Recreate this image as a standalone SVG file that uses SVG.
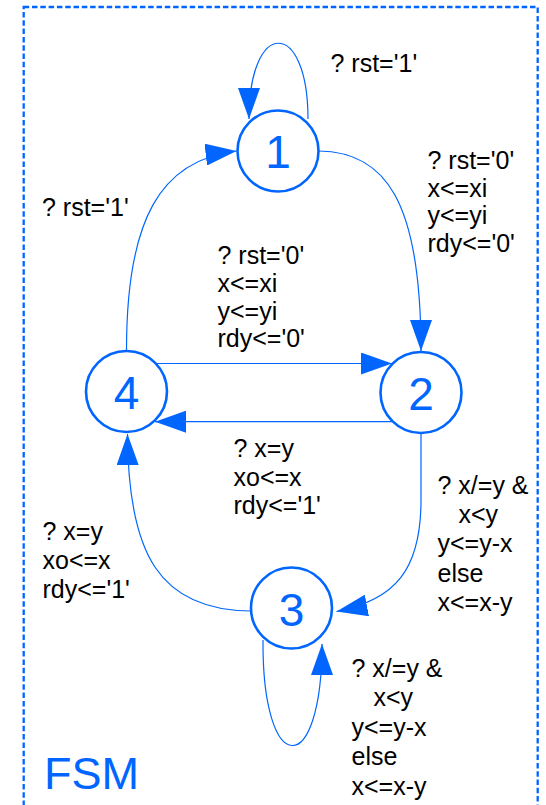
<svg xmlns="http://www.w3.org/2000/svg" width="546" height="805" viewBox="0 0 546 805">
<defs>
<style>
.frame{fill:none;stroke:#0066ff;stroke-width:2.3;stroke-dasharray:5.5 2.8}
.state circle{fill:#fff;stroke:#0066ff;stroke-width:2.6}
.state text{font-family:"Liberation Sans",Arial,sans-serif;font-size:46px;fill:#0066ff;text-anchor:middle}
.edge{fill:none;stroke:#0066ff;stroke-width:1.2;marker-end:url(#ah)}
.lbl{font-family:"Liberation Sans",Arial,sans-serif;font-size:25px;fill:#000}
.title{font-family:"Liberation Sans",Arial,sans-serif;font-size:45px;fill:#0066ff}
</style>
<marker id="ah" markerUnits="userSpaceOnUse" markerWidth="32" markerHeight="22" refX="31" refY="11" orient="auto">
<path d="M0,0 L31,11 L0,22 z" fill="#0066ff"/>
</marker>
</defs>
<rect class="frame" x="23.7" y="7" width="514" height="840"/>
<g id="connectors">
<path class="edge" d="M308,119 C308,18 249,18 249,119"/>
<path class="edge" d="M126.5,350 C126.5,220 160,160 236.5,151"/>
<path class="edge" d="M319,151 C385,152 421,200 421,351"/>
<path class="edge" d="M156,363.5 L392,363.5"/>
<path class="edge" d="M392,421.7 L155,421.7"/>
<path class="edge" d="M421,433.5 L421,500 C421,570 395,600 336.5,611.5"/>
<path class="edge" d="M250.5,611 C160,610 128,555 127.5,434"/>
<path class="edge" d="M263,640 C262,780 322,780 322,644"/>
</g>
<g id="node1" class="state"><circle cx="278" cy="151" r="40.5"/><text x="278" y="167.5">1</text></g>
<g id="node2" class="state"><circle cx="421" cy="392.5" r="40.5"/><text x="421" y="410">2</text></g>
<g id="node3" class="state"><circle cx="291.5" cy="608" r="40.5"/><text x="291.5" y="625.5">3</text></g>
<g id="node4" class="state"><circle cx="126.5" cy="391.5" r="40.5"/><text x="126.5" y="408.5">4</text></g>
<g id="labels" class="lbl">
<text x="330.5" y="72">? rst='1'</text>
<text x="42" y="215.5">? rst='1'</text>
<text x="427.5" y="169">? rst='0'</text>
<text x="427.5" y="196.7">x&lt;=xi</text>
<text x="427.5" y="224.3">y&lt;=yi</text>
<text x="427.5" y="252">rdy&lt;='0'</text>
<text x="217.5" y="264">? rst='0'</text>
<text x="217.5" y="292">x&lt;=xi</text>
<text x="217.5" y="319.5">y&lt;=yi</text>
<text x="217.5" y="347">rdy&lt;='0'</text>
<text x="233.5" y="457">? x=y</text>
<text x="233.5" y="485.5">xo&lt;=x</text>
<text x="233.5" y="514">rdy&lt;='1'</text>
<text x="42.5" y="539.5">? x=y</text>
<text x="42.5" y="568.5">xo&lt;=x</text>
<text x="42.5" y="597.5">rdy&lt;='1'</text>
<text x="437.5" y="494">? x/=y &amp;</text>
<text x="458.5" y="522.5">x&lt;y</text>
<text x="437.5" y="552">y&lt;=y-x</text>
<text x="437.5" y="581.5">else</text>
<text x="437.5" y="611">x&lt;=x-y</text>
<text x="351.5" y="676.5">? x/=y &amp;</text>
<text x="373.5" y="705.5">x&lt;y</text>
<text x="351.5" y="735.5">y&lt;=y-x</text>
<text x="351.5" y="765">else</text>
<text x="351.5" y="794.5">x&lt;=x-y</text>
</g>
<text class="title" x="44" y="788.5">FSM</text>
</svg>
